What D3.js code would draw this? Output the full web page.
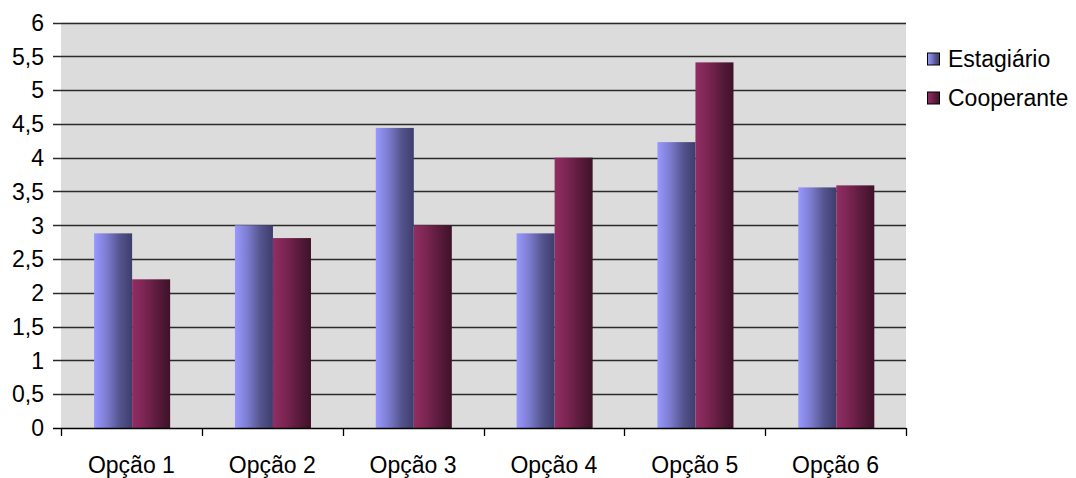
<!DOCTYPE html>
<html>
<head>
<meta charset="utf-8">
<script src="https://cdn.jsdelivr.net/npm/d3@7"></script>
<style>
  html, body { margin: 0; padding: 0; background: #ffffff; }
  svg text { font-family: "Liberation Sans", Arial, sans-serif; fill: #000; }
</style>
</head>
<body>
<svg id="chart" width="1076" height="478"></svg>
<script>
// Categories, series and axis ticks
const categories = ["Opção 1", "Opção 2", "Opção 3", "Opção 4", "Opção 5", "Opção 6"];
const seriesNames = ["Estagiário", "Cooperante"];
const estagiario = [2.88, 3.0, 4.44, 2.88, 4.23, 3.56];
const cooperante = [2.2, 2.81, 3.0, 4.0, 5.41, 3.59];
const yTicks = [0, 0.5, 1, 1.5, 2, 2.5, 3, 3.5, 4, 4.5, 5, 5.5, 6];

const seriesValues = [estagiario, cooperante];
const svg = d3.select("#chart");
const fontSize = "23px";

const plot = { left: 61, right: 906, top: 22.5, bottom: 428 };

const y = d3.scaleLinear().domain([0, 6]).range([plot.bottom, plot.top]);
const x0 = d3.scaleBand().domain(categories).range([plot.left, plot.right])
  .paddingInner(0).paddingOuter(0);
const groupPad = 0.235;
const x1 = d3.scaleBand().domain(seriesNames)
  .range([x0.bandwidth() * groupPad, x0.bandwidth() * (1 - groupPad + 0.01)]).padding(0);

// Bar gradients: light on the left, dark on the right
const defs = svg.append("defs");
const gradStops = [
  ["#9898ff", "#7c7ccf", "#55558f", "#3d3d6c"],
  ["#922d63", "#7a2552", "#5a1b3c", "#3e1229"]
];
gradStops.forEach((stops, i) => {
  const g = defs.append("linearGradient").attr("id", "grad" + i)
    .attr("x1", "0%").attr("x2", "100%").attr("y1", "0%").attr("y2", "0%");
  stops.forEach((c, j) => g.append("stop").attr("offset", (j / (stops.length - 1) * 100) + "%").attr("stop-color", c));
});

// Plot background
svg.append("rect")
  .attr("x", plot.left).attr("y", plot.top)
  .attr("width", plot.right - plot.left).attr("height", plot.bottom - plot.top)
  .attr("fill", "#dcdcdc");

// Horizontal grid lines with left tick marks
svg.append("g").selectAll("line").data(yTicks.filter(d => d > 0)).join("line")
  .attr("x1", plot.left - 8).attr("x2", plot.right)
  .attr("y1", d => Math.round(y(d)) + 0.5).attr("y2", d => Math.round(y(d)) + 0.5)
  .attr("stroke", "#2a2a2a").attr("stroke-width", 1.3);

// Y tick labels
svg.append("g").selectAll("text").data(yTicks).join("text")
  .attr("x", 44).attr("y", d => y(d))
  .attr("dy", "0.36em").attr("text-anchor", "end")
  .attr("font-size", fontSize)
  .text(d => String(d).replace(".", ","));

// Bars
const groups = svg.append("g").selectAll("g").data(categories).join("g")
  .attr("transform", c => `translate(${x0(c)},0)`);
groups.selectAll("rect")
  .data((c, i) => seriesNames.map((s, k) => ({ s, k, v: seriesValues[k][i] })))
  .join("rect")
  .attr("x", d => x1(d.s))
  .attr("width", x1.bandwidth())
  .attr("y", d => y(d.v))
  .attr("height", d => y(0) - y(d.v))
  .attr("fill", d => `url(#grad${d.k})`);

// Bottom axis line, tick marks and category labels
svg.append("line")
  .attr("x1", plot.left - 8).attr("x2", plot.right)
  .attr("y1", plot.bottom + 0.5).attr("y2", plot.bottom + 0.5)
  .attr("stroke", "#000").attr("stroke-width", 1.3);
const boundaries = categories.map(c => x0(c)).concat([plot.right]);
svg.append("g").selectAll("line").data(boundaries).join("line")
  .attr("x1", d => Math.round(d) + 0.5).attr("x2", d => Math.round(d) + 0.5)
  .attr("y1", plot.bottom).attr("y2", plot.bottom + 8)
  .attr("stroke", "#000").attr("stroke-width", 1.3);
svg.append("g").selectAll("text").data(categories).join("text")
  .attr("x", c => x0(c) + x0.bandwidth() / 2)
  .attr("y", 465).attr("dy", "0.36em")
  .attr("text-anchor", "middle").attr("font-size", fontSize)
  .text(c => c);

// Legend
const legend = svg.append("g").selectAll("g").data(seriesNames).join("g")
  .attr("transform", (s, i) => `translate(927,${59 + i * 39})`);
legend.append("rect")
  .attr("x", 0.5).attr("y", -6).attr("width", 12).attr("height", 12)
  .attr("fill", (s, i) => `url(#grad${i})`)
  .attr("stroke", "#000").attr("stroke-width", 1);
legend.append("text")
  .attr("x", 21).attr("y", 0).attr("dy", "0.36em")
  .attr("font-size", fontSize)
  .text(s => s);
</script>
</body>
</html>
